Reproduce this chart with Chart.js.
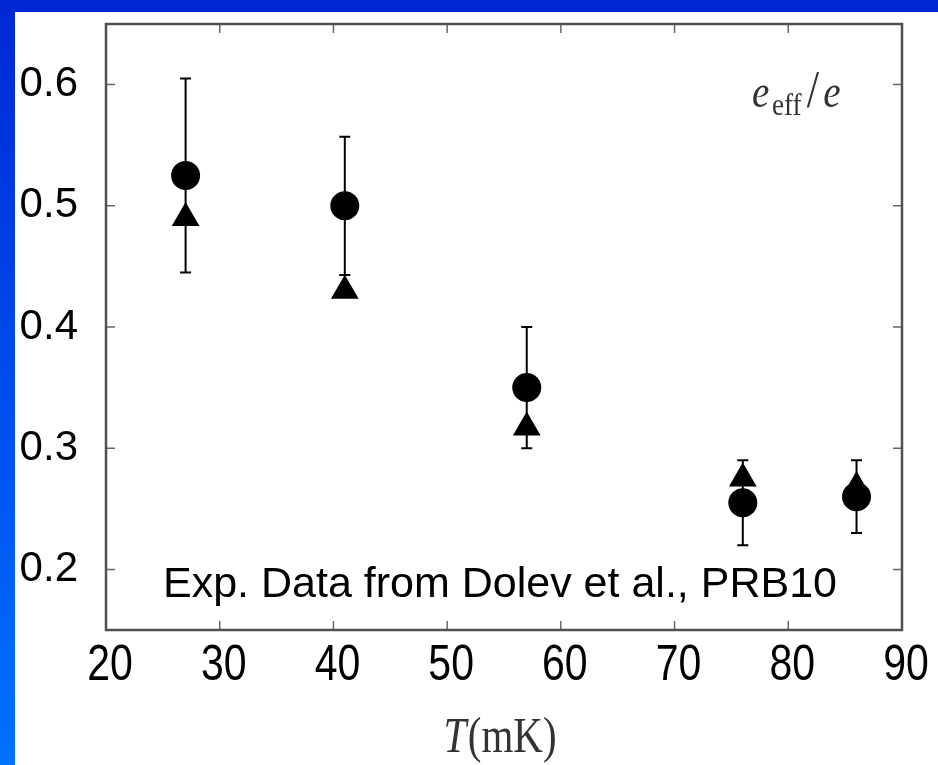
<!DOCTYPE html>
<html>
<head>
<meta charset="utf-8">
<script src="https://cdn.jsdelivr.net/npm/chart.js@4.4.1/dist/chart.umd.min.js"></script>
<style>
  html, body { margin: 0; padding: 0; }
  body {
    width: 938px; height: 765px; overflow: hidden; position: relative;
    background: linear-gradient(180deg, #0028d4 0%, #0050ee 55%, #0072ff 100%);
  }
  #paper { position: absolute; left: 15px; top: 12px; right: 0; bottom: 0; background: #fff; }
  #chart { position: absolute; left: 0; top: 0; }
</style>
</head>
<body>
<div id="paper"></div>
<canvas id="chart" width="938" height="765"></canvas>
<script>
// measured values (T in mK, effective charge e_eff/e)
const temperatures = [27, 41, 57, 76, 86];
const chargeCircles = [0.525, 0.5, 0.35, 0.255, 0.26];
const chargeTriangles = [0.49, 0.43, 0.317, 0.275, 0.268];
const errLow = [0.445, 0.443, 0.30, 0.22, 0.23];
const errHigh = [0.605, 0.557, 0.40, 0.29, 0.29];

const xTicks = [20, 30, 40, 50, 60, 70, 80, 90];
const yTicks = [0.2, 0.3, 0.4, 0.5, 0.6];

const axisColor = '#505050';

// draws text squeezed horizontally, like the stretched original figure
function narrowText(ctx, parts, x, y, squeeze, align) {
  ctx.save();
  ctx.translate(x, y);
  ctx.scale(squeeze, 1);
  ctx.textAlign = 'left';
  let total = 0;
  parts.forEach(p => { ctx.font = p.font; total += ctx.measureText(p.text).width + (p.gap || 0); });
  let cx = align === 'center' ? -total / 2 : 0;
  parts.forEach(p => {
    ctx.font = p.font;
    ctx.fillText(p.text, cx, p.dy || 0);
    cx += ctx.measureText(p.text).width + (p.gap || 0);
  });
  ctx.restore();
}

const framePlugin = {
  id: 'frame',
  beforeDatasetsDraw(chart) {
    const ctx = chart.ctx;
    const x = chart.scales.x;
    const y = chart.scales.y;
    ctx.save();
    // error bars
    ctx.strokeStyle = '#000';
    ctx.lineWidth = 2;
    temperatures.forEach((t, i) => {
      const px = x.getPixelForValue(t);
      const top = y.getPixelForValue(errHigh[i]);
      const bot = y.getPixelForValue(errLow[i]);
      ctx.beginPath();
      ctx.moveTo(px, top); ctx.lineTo(px, bot);
      ctx.moveTo(px - 5.5, top); ctx.lineTo(px + 5.5, top);
      ctx.moveTo(px - 5.5, bot); ctx.lineTo(px + 5.5, bot);
      ctx.stroke();
    });
    ctx.restore();
  },
  afterDatasetsDraw(chart) {
    const ctx = chart.ctx;
    const x = chart.scales.x;
    const y = chart.scales.y;
    const a = chart.chartArea;
    ctx.save();
    // inward ticks
    ctx.strokeStyle = '#666';
    ctx.lineWidth = 1.5;
    ctx.beginPath();
    xTicks.slice(1, -1).forEach(v => {
      const px = x.getPixelForValue(v);
      ctx.moveTo(px, a.bottom); ctx.lineTo(px, a.bottom - 9);
      ctx.moveTo(px, a.top); ctx.lineTo(px, a.top + 9);
    });
    yTicks.forEach(v => {
      const py = y.getPixelForValue(v);
      ctx.moveTo(a.left, py); ctx.lineTo(a.left + 9, py);
      ctx.moveTo(a.right, py); ctx.lineTo(a.right - 9, py);
    });
    ctx.stroke();
    // box
    ctx.strokeStyle = axisColor;
    ctx.lineWidth = 2.5;
    ctx.strokeRect(a.left, a.top, a.right - a.left, a.bottom - a.top);

    // x tick labels
    ctx.fillStyle = '#000';
    ctx.textBaseline = 'alphabetic';
    xTicks.forEach(v => {
      narrowText(ctx, [{ text: String(v), font: '50px "Liberation Sans", Arial, sans-serif' }],
        x.getPixelForValue(v) + 4, 680, 0.82, 'center');
    });

    // annotation
    ctx.font = '43px "Liberation Sans", Arial, sans-serif';
    ctx.textAlign = 'center';
    ctx.fillText('Exp. Data from Dolev et al., PRB10', 500, 597);

    // e_eff/e label
    ctx.fillStyle = '#333';
    narrowText(ctx, [
      { text: 'e', font: 'italic 46px "Liberation Serif", serif', gap: 3 },
      { text: 'eff', font: '32px "Liberation Serif", serif', dy: 8, gap: 6 },
      { text: '/', font: '52px "Liberation Serif", serif', gap: 5 },
      { text: 'e', font: 'italic 46px "Liberation Serif", serif' }
    ], 752, 107, 0.85, 'left');

    // x axis title T(mK)
    narrowText(ctx, [
      { text: 'T', font: 'italic 50px "Liberation Serif", serif', gap: 2 },
      { text: '(mK)', font: '50px "Liberation Serif", serif' }
    ], 500, 752, 0.82, 'center');
    ctx.restore();
  }
};

new Chart(document.getElementById('chart'), {
  type: 'scatter',
  data: {
    datasets: [
      {
        label: 'e_eff/e (circles)',
        data: temperatures.map((t, i) => ({ x: t, y: chargeCircles[i] })),
        pointStyle: 'circle',
        pointRadius: 14.5,
        backgroundColor: '#000',
        borderColor: '#000',
        borderWidth: 0
      },
      {
        label: 'e_eff/e (triangles)',
        data: temperatures.map((t, i) => ({ x: t, y: chargeTriangles[i] })),
        pointStyle: 'triangle',
        pointRadius: 16,
        backgroundColor: '#000',
        borderColor: '#000',
        borderWidth: 0
      }
    ]
  },
  options: {
    responsive: false,
    animation: false,
    layout: { padding: { top: 24, right: 36, left: 0, bottom: 0 }, autoPadding: false },
    plugins: { legend: { display: false }, tooltip: { enabled: false } },
    scales: {
      x: {
        type: 'linear',
        min: 20,
        max: 90,
        afterBuildTicks: s => { s.ticks = xTicks.map(v => ({ value: v })); },
        afterFit: s => { s.height = 135; s.paddingLeft = 0; s.paddingRight = 0; },
        grid: { display: false, drawTicks: false },
        border: { display: false },
        ticks: { display: false }
      },
      y: {
        type: 'linear',
        min: 0.15,
        max: 0.65,
        afterBuildTicks: s => { s.ticks = yTicks.map(v => ({ value: v })); },
        afterFit: s => { s.width = 106; s.paddingTop = 0; s.paddingBottom = 0; },
        grid: { display: false, drawTicks: false },
        border: { display: false },
        ticks: {
          color: '#000',
          font: { family: '"Liberation Sans", Arial', size: 42 },
          padding: 28,
          callback: v => v.toFixed(1)
        }
      }
    }
  },
  plugins: [framePlugin]
});
</script>
</body>
</html>
